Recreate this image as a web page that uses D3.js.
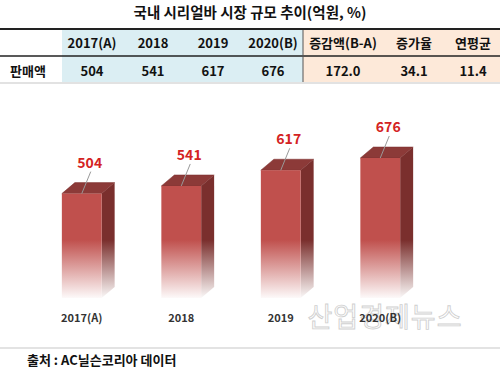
<!DOCTYPE html>
<html>
<head>
<meta charset="utf-8">
<script src="https://cdn.jsdelivr.net/npm/d3@7"></script>
<style>
  body { margin: 0; background: #fff; }
  svg { display: block; font-family: "Noto Sans CJK KR", "Noto Sans", sans-serif; }
</style>
</head>
<body>
<div id="chart"></div>
<script>
const title = "국내 시리얼바 시장 규모 추이(억원, %)";
const years = ["2017(A)", "2018", "2019", "2020(B)"];
const sales = [504, 541, 617, 676];
const extraHeads = ["증감액(B-A)", "증가율", "연평균"];
const extraVals = ["172.0", "34.1", "11.4"];
const rowLabel = "판매액";
const source = "출처 : AC닐슨코리아 데이터";
const watermark = "산업경제뉴스";

const W = 500, H = 372;
const svg = d3.select("#chart").append("svg").attr("width", W).attr("height", H);

// title
svg.append("text").attr("x", 250).attr("y", 18).attr("text-anchor", "middle")
  .attr("font-size", 14.5).attr("font-weight", "bold").attr("fill", "#111").text(title);

// table
const colCenters = [92, 153, 213, 273, 343, 414, 473];
svg.append("rect").attr("x", 62).attr("y", 30).attr("width", 241).attr("height", 52).attr("fill", "#dbeef3");
svg.append("rect").attr("x", 303).attr("y", 30).attr("width", 197).attr("height", 52).attr("fill", "#fde9d9");
svg.append("line").attr("x1", 0).attr("x2", W).attr("y1", 29).attr("y2", 29).attr("stroke", "#222").attr("stroke-width", 2);
svg.append("line").attr("x1", 0).attr("x2", W).attr("y1", 56).attr("y2", 56).attr("stroke", "#222").attr("stroke-width", 1.5);
svg.append("line").attr("x1", 0).attr("x2", W).attr("y1", 83).attr("y2", 83).attr("stroke", "#d8d8d8").attr("stroke-width", 1.5);
svg.append("line").attr("x1", 303).attr("x2", 303).attr("y1", 30).attr("y2", 82).attr("stroke", "#555").attr("stroke-width", 1);

const heads = years.concat(extraHeads);
const vals = sales.map(String).concat(extraVals);
svg.selectAll("text.head").data(heads).join("text").attr("class", "head")
  .attr("x", (d, i) => colCenters[i]).attr("y", 48).attr("text-anchor", "middle")
  .attr("font-size", 13).attr("font-weight", "bold").attr("fill", "#111").text(d => d);
svg.selectAll("text.val").data(vals).join("text").attr("class", "val")
  .attr("x", (d, i) => colCenters[i]).attr("y", 76).attr("text-anchor", "middle")
  .attr("font-size", 13).attr("font-weight", "bold").attr("fill", "#111").text(d => d);
svg.append("text").attr("x", 28).attr("y", 76).attr("text-anchor", "middle")
  .attr("font-size", 13).attr("font-weight", "bold").attr("fill", "#111").text(rowLabel);

// bars
const x = d3.scaleBand().domain(years).range([32, 430]).paddingInner(0.6).paddingOuter(0.3);
const y = d3.scaleLinear().domain([0, 676]).range([298, 158]);
const dx = 13, dy = 11;

const defs = svg.append("defs");
function grad(id, color) {
  const g = defs.append("linearGradient").attr("id", id)
    .attr("gradientUnits", "userSpaceOnUse").attr("x1", 0).attr("x2", 0).attr("y1", 150).attr("y2", 300);
  g.append("stop").attr("offset", "0").attr("stop-color", color);
  g.append("stop").attr("offset", "0.6").attr("stop-color", color);
  g.append("stop").attr("offset", "1").attr("stop-color", "#fff");
}
grad("gFront", "#c0504d");
grad("gSide", "#7a2f2d");

// watermark (behind the labels)
svg.append("text").attr("x", 385).attr("y", 327).attr("text-anchor", "middle")
  .attr("font-size", 27).attr("fill", "#fff").attr("fill-opacity", 0.3)
  .attr("stroke", "#d0d0d0").attr("stroke-width", 0.9).attr("letter-spacing", 1).text(watermark);

const bars = svg.selectAll("g.bar").data(years).join("g").attr("class", "bar");
bars.each(function(d, i) {
  const g = d3.select(this);
  const x0 = x(d), w = x.bandwidth(), yt = y(sales[i]), yb = y(0);
  g.append("path").attr("fill", "url(#gSide)")
    .attr("d", `M${x0 + w},${yt} L${x0 + w + dx},${yt - dy} L${x0 + w + dx},${yb - dy} L${x0 + w},${yb} Z`);
  g.append("path").attr("fill", "#8c3a38").attr("stroke", "#7a2f2d").attr("stroke-width", 0.5)
    .attr("d", `M${x0},${yt} L${x0 + dx},${yt - dy} L${x0 + w + dx},${yt - dy} L${x0 + w},${yt} Z`);
  g.append("rect").attr("x", x0).attr("y", yt).attr("width", w).attr("height", yb - yt).attr("fill", "url(#gFront)");
  const cx = x0 + w / 2;
  g.append("line").attr("x1", cx).attr("y1", yt).attr("x2", cx + 9).attr("y2", yt - 22)
    .attr("stroke", "#999").attr("stroke-width", 1);
  g.append("text").attr("x", cx + 8).attr("y", yt - 26).attr("text-anchor", "middle")
    .attr("font-size", 14).attr("font-weight", "bold").attr("fill", "#d42323").text(sales[i]);
});

// category labels
svg.selectAll("text.cat").data(years).join("text").attr("class", "cat")
  .attr("x", d => x(d) + x.bandwidth() / 2).attr("y", 322).attr("text-anchor", "middle")
  .attr("font-size", 11).attr("font-weight", "bold").attr("fill", "#333").text(d => d);

// source
svg.append("line").attr("x1", 0).attr("x2", W).attr("y1", 348).attr("y2", 348).attr("stroke", "#e3e3e3").attr("stroke-width", 2);
svg.append("text").attr("x", 27).attr("y", 365).attr("font-size", 13).attr("font-weight", "bold").attr("fill", "#111").text(source);
</script>
</body>
</html>
